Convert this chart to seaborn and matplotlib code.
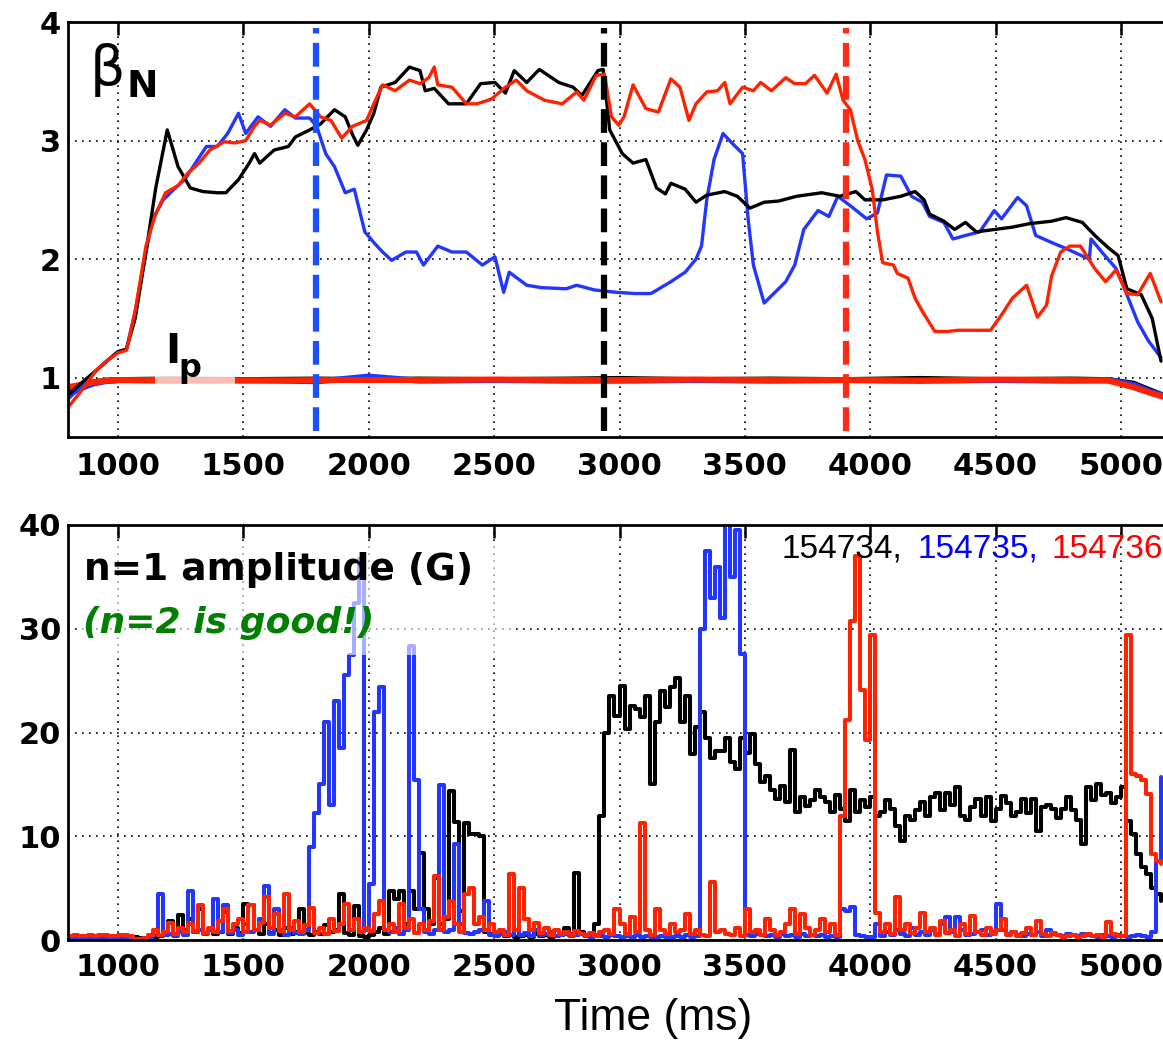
import numpy as np
import matplotlib
matplotlib.use("Agg")
import matplotlib.pyplot as plt
import seaborn as sns
from matplotlib.patches import Rectangle

# ---------------- data ----------------
shots = ["154734", "154735", "154736"]
event_times = [1790, 2940, 3903]          # blue, black, red dashed markers

bn_black_t = [800, 850, 912, 960, 1000, 1033, 1068, 1111, 1150, 1196,
              1239, 1288, 1338, 1395, 1430, 1480, 1523, 1544, 1565, 1622,
              1679, 1707, 1764, 1807, 1863, 1906, 1935, 1956, 1991, 2020,
              2048, 2105, 2162, 2204, 2225, 2261, 2318, 2389, 2446, 2503,
              2545, 2580, 2630, 2680, 2758, 2815, 2850, 2914, 2935, 2961,
              3011, 3054, 3105, 3148, 3183, 3205, 3262, 3305, 3348, 3420,
              3470, 3520, 3577, 3635, 3706, 3807, 3878, 3943, 3979, 4050,
              4122, 4179, 4215, 4237, 4294, 4337, 4380, 4423, 4495, 4567,
              4638, 4724, 4781, 4846, 4896, 4953, 4989, 5024, 5081, 5125,
              5160]
bn_black = [0.85, 0.95, 1.06, 1.15, 1.22, 1.24, 1.50, 2.06, 2.60, 3.09,
            2.78, 2.60, 2.57, 2.56, 2.56, 2.67, 2.81, 2.89, 2.81, 2.92,
            2.95, 3.03, 3.09, 3.14, 3.26, 3.20, 3.05, 2.96, 3.09, 3.23,
            3.45, 3.49, 3.62, 3.59, 3.42, 3.44, 3.31, 3.31, 3.48, 3.49,
            3.40, 3.59, 3.49, 3.60, 3.49, 3.45, 3.38, 3.59, 3.60, 3.09,
            2.89, 2.81, 2.84, 2.60, 2.55, 2.64, 2.59, 2.48, 2.54, 2.57,
            2.53, 2.43, 2.48, 2.49, 2.53, 2.56, 2.53, 2.57, 2.50, 2.50,
            2.53, 2.57, 2.50, 2.38, 2.32, 2.25, 2.31, 2.23, 2.25, 2.27,
            2.30, 2.32, 2.35, 2.31, 2.20, 2.09, 2.03, 1.75, 1.70, 1.50,
            1.14]

bn_blue_t = [800, 850, 912, 960, 1000, 1033, 1068, 1111, 1138, 1180,
             1223, 1265, 1308, 1352, 1395, 1437, 1480, 1509, 1558, 1608,
             1665, 1707, 1764, 1792, 1828, 1863, 1906, 1942, 1984, 2020,
             2055, 2091, 2148, 2190, 2218, 2275, 2332, 2389, 2453, 2503,
             2538, 2560, 2630, 2687, 2787, 2829, 2900, 2990, 3062, 3126,
             3205, 3262, 3305, 3327, 3348, 3377, 3413, 3448, 3491, 3513,
             3534, 3577, 3620, 3663, 3699, 3735, 3792, 3835, 3871, 3921,
             3986, 4029, 4065, 4122, 4165, 4208, 4237, 4294, 4330, 4380,
             4437, 4495, 4524, 4588, 4624, 4660, 4724, 4781, 4874, 4881,
             4924, 4981, 5024, 5067, 5110, 5160]
bn_blue = [0.82, 0.92, 1.06, 1.15, 1.22, 1.24, 1.56, 2.06, 2.34, 2.50,
           2.59, 2.67, 2.81, 2.95, 2.95, 3.06, 3.23, 3.06, 3.20, 3.12,
           3.26, 3.19, 3.19, 3.12, 2.89, 2.78, 2.56, 2.59, 2.23, 2.14,
           2.06, 1.99, 2.06, 2.06, 1.95, 2.11, 2.06, 2.06, 1.95, 2.02,
           1.72, 1.89, 1.78, 1.76, 1.75, 1.78, 1.74, 1.72, 1.71, 1.71,
           1.81, 1.89, 2.00, 2.11, 2.50, 2.84, 3.06, 2.98, 2.89, 2.34,
           1.95, 1.63, 1.72, 1.81, 1.95, 2.25, 2.41, 2.36, 2.53, 2.45,
           2.34, 2.39, 2.71, 2.70, 2.53, 2.48, 2.36, 2.31, 2.17, 2.20,
           2.23, 2.41, 2.34, 2.52, 2.45, 2.20, 2.14, 2.09, 2.00, 2.17,
           2.06, 1.92, 1.70, 1.47, 1.31, 1.17]

bn_red_t = [800, 850, 912, 960, 1000, 1033, 1068, 1111, 1146, 1189,
            1239, 1280, 1323, 1366, 1423, 1466, 1509, 1544, 1565, 1608,
            1665, 1707, 1764, 1807, 1849, 1892, 1935, 1991, 2020, 2055,
            2105, 2162, 2204, 2239, 2261, 2275, 2332, 2389, 2432, 2489,
            2545, 2588, 2630, 2701, 2772, 2829, 2858, 2907, 2940, 2968,
            2997, 3018, 3054, 3105, 3155, 3205, 3241, 3277, 3305, 3348,
            3391, 3420, 3441, 3491, 3534, 3563, 3606, 3663, 3699, 3742,
            3778, 3828, 3864, 3892, 3921, 3950, 3979, 4008, 4029, 4050,
            4093, 4108, 4151, 4179, 4208, 4258, 4308, 4351, 4480, 4524,
            4567, 4624, 4667, 4703, 4724, 4760, 4796, 4839, 4896, 4939,
            4981, 5024, 5067, 5117, 5160]
bn_red = [0.75, 0.88, 1.06, 1.15, 1.21, 1.23, 1.56, 2.11, 2.36, 2.56,
          2.62, 2.73, 2.81, 2.92, 2.99, 2.98, 3.00, 3.12, 3.17, 3.13,
          3.23, 3.20, 3.31, 3.20, 3.17, 3.02, 3.12, 3.17, 3.31, 3.47,
          3.42, 3.51, 3.48, 3.53, 3.62, 3.47, 3.45, 3.31, 3.31, 3.35,
          3.45, 3.51, 3.42, 3.34, 3.31, 3.41, 3.34, 3.55, 3.56, 3.20,
          3.13, 3.20, 3.47, 3.27, 3.24, 3.52, 3.45, 3.17, 3.31, 3.41,
          3.42, 3.49, 3.31, 3.45, 3.42, 3.49, 3.42, 3.53, 3.48, 3.48,
          3.55, 3.40, 3.56, 3.34, 3.26, 3.00, 2.84, 2.59, 2.23, 1.97,
          1.95, 1.88, 1.84, 1.67, 1.56, 1.39, 1.39, 1.40, 1.40, 1.53,
          1.67, 1.78, 1.51, 1.61, 1.86, 2.06, 2.11, 2.11, 1.92, 1.81,
          1.91, 1.71, 1.70, 1.88, 1.64]

ip_t = [800, 850, 900, 950, 1000, 1200, 1500, 1800, 2000, 2200, 2500, 2800,
        3000, 3300, 3600, 3900, 4200, 4500, 4800, 4950, 5050, 5120, 5168]
ip_black = [0.90, 0.93, 0.96, 0.975, 0.98, 0.985, 0.98, 0.985, 0.98, 0.985, 0.98, 0.985,
            0.99, 0.98, 0.985, 0.98, 0.99, 0.98, 0.985, 0.98, 0.95, 0.89, 0.85]
ip_blue = [0.86, 0.91, 0.95, 0.97, 0.98, 0.975, 0.98, 0.97, 1.01, 0.975, 0.98, 0.975,
           0.975, 0.98, 0.975, 0.98, 0.975, 0.98, 0.975, 0.98, 0.94, 0.88, 0.85]
ip_red = [0.92, 0.94, 0.96, 0.975, 0.98, 0.98, 0.975, 0.98, 0.98, 0.98, 0.985, 0.98,
          0.98, 0.985, 0.98, 0.98, 0.975, 0.985, 0.98, 0.975, 0.92, 0.87, 0.84]

# n=1 amplitude, sampled every 20 ms from 800 to 5160 ms
amp_t = list(range(800, 5161, 20))
amp_black = [0.3, 0.3, 0.3, 0.3, 0.4, 0.3, 0.3, 0.3, 0.3, 0.3,
             0.3, 0.3, 0.3, 0.3, 0.2, 0.2, 0.3, 0.3, 0.4, 0.5,
             1.8, 0.6, 2.4, 1.0, 2.0, 0.8, 3.0, 0.7, 1.0, 0.6,
             0.8, 2.7, 0.6, 1.2, 0.7, 3.5, 3.4, 1.0, 0.6, 1.5,
             0.7, 1.0, 0.5, 1.2, 0.6, 0.8, 3.0, 0.7, 0.5, 0.8,
             0.6, 1.4, 0.8, 1.0, 4.4, 0.7, 0.5, 3.3, 0.4, 0.3,
             0.5, 0.8, 1.2, 0.6, 4.7, 4.0, 4.7, 1.5, 4.7, 3.0,
             8.4, 3.0, 1.5, 6.0, 1.5, 2.0, 14.4, 11.4, 2.8, 11.3,
             10.2, 10.2, 10.0, 0.8, 0.6, 0.5, 0.6, 0.4, 0.5, 0.3,
             0.4, 0.5, 0.3, 0.6, 0.4, 0.5, 0.3, 0.4, 0.6, 1.2,
             0.6, 6.5, 0.8, 0.5, 0.6, 1.5, 12.0, 20.0, 23.5, 21.6,
             24.5, 20.3, 22.6, 22.3, 21.5, 23.5, 15.0, 21.0, 24.0, 22.5,
             24.4, 25.3, 21.0, 23.5, 17.9, 20.5, 22.0, 19.5, 17.5, 18.2,
             18.2, 19.5, 17.2, 16.5, 19.5, 18.0, 19.9, 17.0, 15.2, 15.8,
             14.5, 13.6, 14.8, 13.3, 18.3, 12.3, 13.8, 12.9, 13.5, 14.5,
             13.8, 13.3, 12.3, 14.0, 12.6, 11.5, 14.5, 12.3, 13.5, 12.8,
             13.8, 12.0, 12.3, 13.5, 12.6, 11.0, 9.5, 12.0, 11.6, 12.5,
             13.3, 12.0, 13.8, 14.2, 12.5, 14.2, 13.0, 14.7, 12.0, 11.6,
             12.8, 13.6, 12.0, 13.8, 11.5, 12.6, 13.9, 13.2, 12.0, 12.3,
             13.6, 12.2, 13.6, 10.5, 12.8, 13.0, 12.6, 11.8, 12.6, 13.8,
             12.5, 11.6, 9.3, 14.7, 13.5, 15.0, 14.0, 14.2, 13.2, 13.8,
             14.7, 11.5, 10.2, 8.3, 7.0, 6.4, 5.0, 4.4, 3.8]
amp_blue = [0.2, 0.3, 0.2, 0.2, 0.3, 0.2, 0.2, 0.3, 0.2, 0.2,
            0.2, 0.2, 0.2, 0.1, 0.1, 0.1, 0.3, 0.5, 4.4, 0.5,
            0.6, 0.4, 0.8, 0.5, 4.7, 0.8, 1.0, 0.6, 1.0, 4.0,
            0.8, 3.4, 0.7, 1.0, 0.5, 1.5, 0.8, 1.0, 2.0, 5.2,
            0.6, 3.0, 1.0, 0.5, 1.2, 0.7, 0.6, 1.0, 9.0, 12.2,
            15.0, 21.0, 13.0, 23.0, 18.5, 25.5, 27.5, 32.5, 36.7, 1.0,
            5.4, 22.0, 24.4, 1.0, 0.8, 1.2, 0.6, 1.0, 28.3, 15.4,
            3.0, 0.8, 0.6, 1.0, 14.9, 0.8, 1.0, 9.3, 1.5, 0.7,
            0.6, 0.8, 1.0, 3.8, 0.5, 0.4, 0.6, 0.8, 0.5, 1.0,
            0.5, 0.7, 0.4, 1.0, 0.5, 0.6, 0.8, 0.4, 0.5, 0.6,
            0.4, 0.5, 0.6, 0.4, 0.3, 0.5, 0.4, 0.3, 0.5, 0.4,
            0.3, 0.4, 0.3, 0.5, 0.3, 0.4, 0.3, 0.3, 0.4, 0.3,
            0.3, 0.4, 0.3, 0.5, 0.3, 0.4, 30.0, 37.5, 33.0, 36.0,
            31.0, 40.5, 35.0, 39.5, 27.6, 0.5, 0.4, 0.6, 0.5, 0.4,
            0.5, 0.3, 0.6, 0.4, 0.5, 0.3, 0.6, 0.4, 0.5, 0.4,
            0.5, 0.3, 0.4, 0.3, 3.0, 2.8, 3.2, 0.5, 0.4, 0.3,
            0.3, 1.5, 0.4, 0.8, 0.5, 1.0, 0.6, 0.4, 1.2, 0.5,
            0.8, 0.5, 1.0, 0.6, 1.5, 2.2, 0.8, 2.2, 1.0, 0.5,
            0.6, 0.8, 1.0, 0.5, 0.8, 3.5, 1.0, 0.6, 0.8, 0.5,
            0.4, 0.6, 0.5, 0.8, 0.4, 1.0, 0.6, 0.5, 0.4, 0.6,
            0.5, 0.4, 0.6, 0.5, 0.4, 0.3, 0.5, 0.4, 0.3, 0.5,
            0.4, 0.3, 0.4, 0.5, 0.4, 0.3, 0.8, 7.6, 15.7]
amp_red = [0.4, 0.5, 0.4, 0.4, 0.5, 0.4, 0.5, 0.5, 0.4, 0.4,
           0.5, 0.5, 0.4, 0.1, 0.1, 0.2, 0.5, 1.0, 0.5, 0.8,
           1.6, 0.6, 1.2, 0.8, 1.5, 0.9, 3.4, 0.7, 1.2, 0.8,
           1.8, 3.0, 0.9, 1.5, 2.0, 0.8, 3.4, 1.0, 1.6, 4.1,
           1.2, 2.5, 0.9, 4.4, 1.0, 1.8, 0.8, 1.4, 3.1, 0.7,
           1.2, 0.6, 2.0, 0.9, 1.5, 3.5, 1.0, 2.0, 0.8, 1.2,
           0.9, 2.5, 3.8, 1.0, 1.5, 0.8, 3.5, 1.2, 2.0, 0.7,
           1.5, 1.0, 1.8, 6.2, 1.0, 2.2, 3.8, 1.5, 0.8, 4.4,
           5.0, 1.5, 2.2, 1.0, 1.5, 0.8, 1.0, 0.5, 6.4, 1.0,
           5.0, 2.0, 1.0, 1.6, 0.7, 1.2, 0.5, 1.0, 0.6, 0.8,
           0.5, 0.9, 0.6, 0.5, 0.7, 0.4, 0.8, 1.0, 0.6, 3.0,
           1.5, 0.6, 2.2, 0.8, 11.3, 1.0, 0.5, 3.0, 1.0, 0.6,
           1.5, 0.8, 1.0, 2.5, 0.6, 1.0, 0.5, 0.4, 5.6, 0.8,
           1.0, 0.6, 0.5, 1.2, 0.4, 3.0, 0.8, 1.0, 0.5, 2.0,
           1.0, 0.5, 0.8, 1.5, 3.0, 0.6, 2.5, 1.2, 0.5, 1.0,
           2.0, 0.8, 1.5, 0.5, 12.0, 21.2, 30.7, 37.0, 24.1, 19.3,
           29.4, 2.6, 0.8, 1.5, 0.6, 4.1, 1.0, 1.5, 0.7, 1.2,
           2.6, 0.8, 1.2, 0.5, 1.8, 0.7, 1.0, 0.4, 1.5, 0.6,
           2.3, 0.8, 0.5, 1.2, 0.6, 1.0, 2.0, 0.5, 0.8, 0.4,
           0.7, 1.2, 0.5, 1.8, 0.6, 0.4, 0.7, 0.5, 0.3, 0.4,
           0.5, 0.3, 0.4, 0.6, 0.4, 0.5, 0.3, 1.7, 0.6, 0.4,
           0.4, 29.4, 16.0, 15.8, 15.4, 14.1, 8.3, 7.6, 7.3]

x_ticks = [1000, 1500, 2000, 2500, 3000, 3500, 4000, 4500, 5000]
bn_ticks = [1, 2, 3, 4]
amp_ticks = [0, 10, 20, 30, 40]

# ---------------- style ----------------
sns.set_theme(style="white")
plt.rcParams["font.family"] = ["DejaVu Sans"]

C_BLACK = "#000000"
C_BLUE = "#2236ff"
C_RED = "#ff2200"
C_BLUE_D = "#1a50ff"
C_RED_D = "#ff2a14"

W, H = 1163, 1046
fig = plt.figure(figsize=(W / 100, H / 100), dpi=100)
fig.patch.set_facecolor("white")


def fx(px):
    return px / W


def fy(py):
    return 1 - py / H


ax1 = fig.add_axes([fx(68), fy(437), 1 - fx(68), fy(22) - fy(437)])
ax2 = fig.add_axes([fx(68), fy(940), 1 - fx(68), fy(525) - fy(940)])


def style_axes(ax, ylim, yticks, xpad):
    ax.set_xlim(800, 5168)
    ax.set_ylim(*ylim)
    ax.set_xticks(x_ticks)
    ax.set_yticks(yticks)
    ax.set_xticklabels([str(v) for v in x_ticks], fontsize=22, fontweight="bold")
    ax.set_yticklabels([str(v) for v in yticks], fontsize=22, fontweight="bold")
    ax.tick_params(axis="both", direction="in", length=9, width=1.8,
                   top=True, right=False, colors="black")
    ax.tick_params(axis="x", pad=xpad)
    ax.tick_params(axis="y", pad=5)
    ax.grid(True, color="black", linestyle=(0, (1, 3.2)), linewidth=1.2, zorder=0.5)
    ax.set_axisbelow(True)
    for s in ["top", "bottom", "left"]:
        ax.spines[s].set_linewidth(2.0)
        ax.spines[s].set_color("black")
    ax.spines["right"].set_visible(False)
    ax.set_facecolor("white")
    ax.set_xlabel("")
    ax.set_ylabel("")


# ---------- top panel ----------
sns.lineplot(x=ip_t, y=ip_black, ax=ax1, color=C_BLACK, lw=4.3, sort=False, estimator=None, zorder=2)
sns.lineplot(x=ip_t, y=ip_blue, ax=ax1, color=C_BLUE, lw=4.3, sort=False, estimator=None, zorder=2.1)
sns.lineplot(x=ip_t, y=ip_red, ax=ax1, color=C_RED, lw=4.3, sort=False, estimator=None, zorder=2.2)

sns.lineplot(x=bn_blue_t, y=bn_blue, ax=ax1, color=C_BLUE, lw=2.4, sort=False, estimator=None, zorder=2.3)
sns.lineplot(x=bn_black_t, y=bn_black, ax=ax1, color=C_BLACK, lw=2.4, sort=False, estimator=None, zorder=2.4)
sns.lineplot(x=bn_red_t, y=bn_red, ax=ax1, color=C_RED, lw=2.4, sort=False, estimator=None, zorder=2.5)

for tv, col in zip(event_times, [C_BLUE_D, C_BLACK, C_RED_D]):
    ax1.axvline(tv, ymin=0.015, ymax=0.985, color=col, lw=4.5,
                linestyle=(0, (3.8, 1.5)), zorder=2.8)

style_axes(ax1, (0.5, 4.0), bn_ticks, xpad=11)

# translucent box behind the I_p label
ax1.add_patch(Rectangle(((155 - 68) / 1095, (437 - 388) / 415), 80 / 1095, 58 / 415,
                        transform=ax1.transAxes, facecolor="white", alpha=0.7,
                        edgecolor="none", zorder=3))
fig.text(fx(90), fy(85), "β", fontsize=40, color="black",
         ha="left", va="baseline")
fig.text(fx(126), fy(97), "N", fontsize=27, fontweight="bold", color="black",
         ha="left", va="baseline")
fig.text(fx(165), fy(363), "I", fontsize=29, fontweight="bold", color="black",
         ha="left", va="baseline", zorder=5)
fig.text(fx(178), fy(377), "p", fontsize=23, fontweight="bold", color="black",
         ha="left", va="baseline", zorder=5)

# ---------- bottom panel ----------
sns.lineplot(x=amp_t, y=amp_black, ax=ax2, color=C_BLACK, lw=2.9, sort=False,
             estimator=None, drawstyle="steps-post", zorder=2)
sns.lineplot(x=amp_t, y=amp_blue, ax=ax2, color=C_BLUE, lw=2.9, sort=False,
             estimator=None, drawstyle="steps-post", zorder=2.1)
sns.lineplot(x=amp_t, y=amp_red, ax=ax2, color=C_RED, lw=2.9, sort=False,
             estimator=None, drawstyle="steps-post", zorder=2.2)

style_axes(ax2, (0, 40), amp_ticks, xpad=9)

ax2.add_patch(Rectangle(((80 - 68) / 1095, (940 - 655) / 415), 432 / 1095, 110 / 415,
                        transform=ax2.transAxes, facecolor="white", alpha=0.6,
                        edgecolor="none", zorder=3))
fig.text(fx(84), fy(580), "n=1 amplitude (G)", fontsize=27, fontweight="bold",
         color="black", ha="left", va="baseline", zorder=5)
fig.text(fx(83), fy(633), "(n=2 is good!)", fontsize=26, fontweight="bold",
         fontstyle="italic", color="#008000", ha="left", va="baseline", zorder=5)

for xp, lab, col in zip([782, 917, 1052], ["154734,", "154735,", "154736"],
                        ["black", "#0000ff", "#ff0000"]):
    fig.text(fx(xp), fy(558), lab, fontsize=24, family=["Liberation Sans", "DejaVu Sans"],
             color=col, ha="left", va="baseline", zorder=5)

fig.text(fx(653), fy(1030), "Time (ms)", fontsize=32,
         family=["Liberation Sans", "DejaVu Sans"], color="black",
         ha="center", va="baseline")

fig.savefig("out.png", dpi=100, facecolor="white")
